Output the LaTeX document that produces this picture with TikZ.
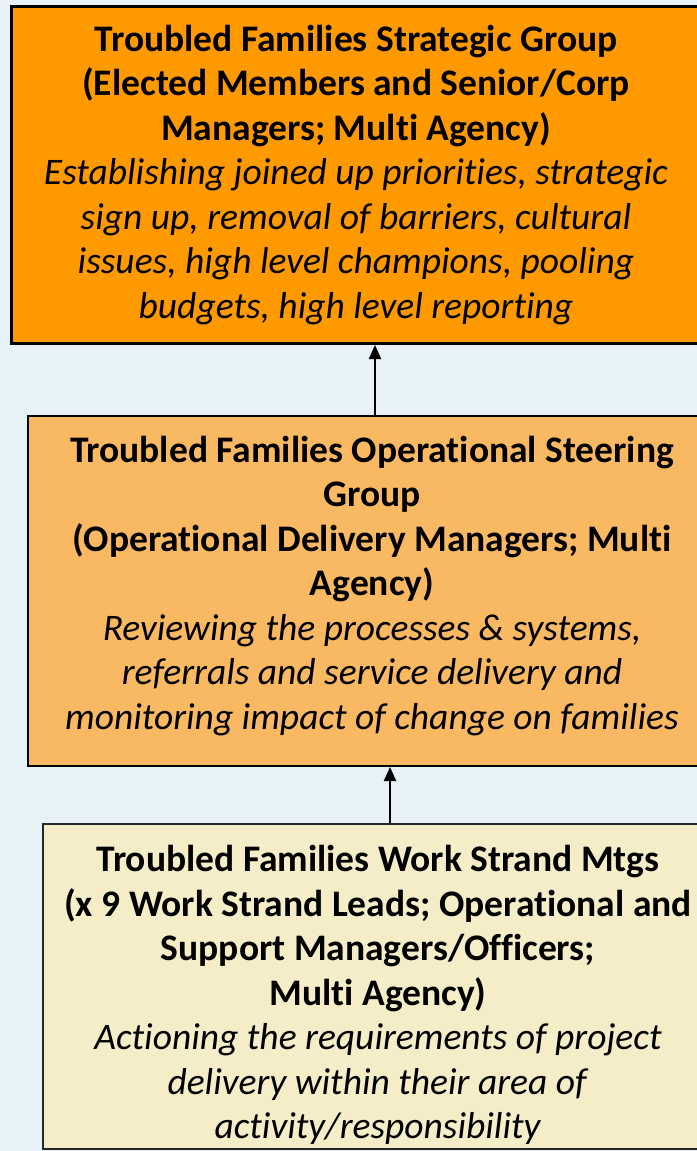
\documentclass[tikz,border=0pt]{standalone}
\usepackage{fontspec}
\setmainfont{Carlito}[Ligatures=NoCommon]
\usetikzlibrary{arrows.meta}
\definecolor{bg}{HTML}{E6F1F8}
\definecolor{topfill}{HTML}{FF9900}
\definecolor{midfill}{HTML}{F9B862}
\definecolor{botfill}{HTML}{F4EDC8}
\begin{document}
\begin{tikzpicture}[x=1bp,y=-1bp,
  box/.style={draw=black,rectangle,inner sep=0pt,anchor=north west},
  txt/.style={align=center,inner sep=0pt,font=\fontsize{37.5bp}{44.5bp}\selectfont},
  conn/.style={line width=2bp,-{Triangle[length=14bp,width=12bp]}}]
\useasboundingbox (0,0) rectangle (697,1151);
\clip (0,0) rectangle (697,1151);
\fill[bg] (0,0) rectangle (697,1151);
\node[box,fill=topfill,line width=3bp,minimum width=700bp,minimum height=337bp] (top) at (10,5) {};
\node[box,fill=midfill,line width=2bp,minimum width=700bp,minimum height=350bp] (mid) at (27,415) {};
\node[box,fill=botfill,line width=2bp,draw=black!85,minimum width=700bp,minimum height=325bp] (bot) at (42,823) {};
\node[txt] (toptxt) at (356,175) {\textbf{Troubled Families Strategic Group}\\\textbf{(Elected Members and Senior/Corp}\\\textbf{Managers; Multi Agency)}\\\textit{Establishing joined up priorities, strategic}\\\textit{sign up, removal of barriers, cultural}\\\textit{issues, high level champions, pooling}\\\textit{budgets, high level reporting}};
\node[txt] (midtxt) at (372,586) {\textbf{Troubled Families Operational Steering}\\\textbf{Group}\\\textbf{(Operational Delivery Managers; Multi}\\\textbf{Agency)}\\\textit{Reviewing the processes \& systems,}\\\textit{referrals and service delivery and}\\\textit{monitoring impact of change on families}};
\node[txt] (bottxt) at (378,995) {\textbf{Troubled Families Work Strand Mtgs}\\\textbf{(x 9 Work Strand Leads; Operational and}\\\textbf{Support Managers/Officers;}\\\textbf{Multi Agency)}\\\textit{Actioning the requirements of project}\\\textit{delivery within their area of}\\\textit{activity/responsibility}};
\draw[conn] (mid.north west -| 375,0) -- (top.south west -| 375,0);
\draw[conn] (bot.north west -| 390,0) -- (mid.south west -| 390,0);
\end{tikzpicture}
\end{document}
